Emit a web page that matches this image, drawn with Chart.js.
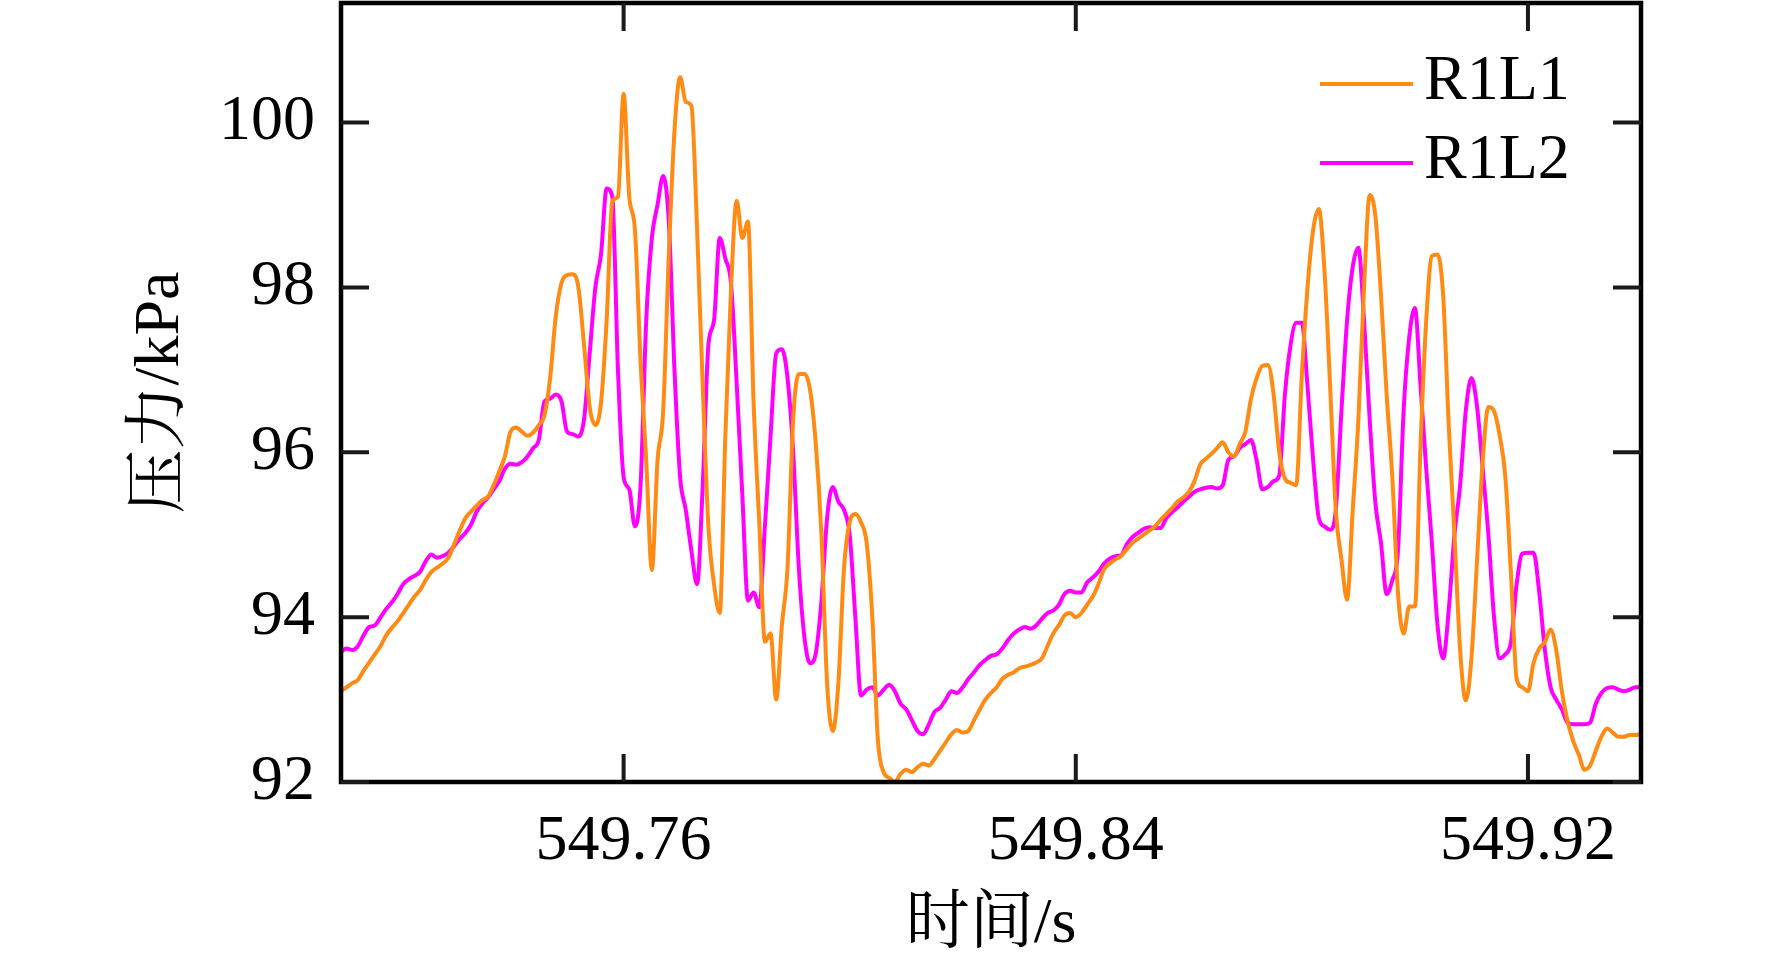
<!DOCTYPE html>
<html><head><meta charset="utf-8">
<script src="https://cdn.jsdelivr.net/npm/chart.js@4.4.0/dist/chart.umd.min.js"></script>
<style>html,body{margin:0;padding:0;background:#fff;}canvas{display:block;}</style>
</head><body>
<canvas id="c" width="1772" height="969"></canvas>
<script>
const timeS = [
549.710,549.711,549.712,549.713,549.714,549.715,549.716,549.717,549.718,549.719,
549.720,549.721,549.722,549.723,549.724,549.725,549.726,549.727,549.728,549.729,
549.730,549.731,549.732,549.733,549.734,549.735,549.736,549.737,549.738,549.739,
549.740,549.741,549.742,549.743,549.744,549.745,549.746,549.747,549.748,549.749,
549.750,549.751,549.752,549.753,549.754,549.755,549.756,549.757,549.758,549.759,
549.760,549.761,549.762,549.763,549.764,549.765,549.766,549.767,549.768,549.769,
549.770,549.771,549.772,549.773,549.774,549.775,549.776,549.777,549.778,549.779,
549.780,549.781,549.782,549.783,549.784,549.785,549.786,549.787,549.788,549.789,
549.790,549.791,549.792,549.793,549.794,549.795,549.796,549.797,549.798,549.799,
549.800,549.801,549.802,549.803,549.804,549.805,549.806,549.807,549.808,549.809,
549.810,549.811,549.812,549.813,549.814,549.815,549.816,549.817,549.818,549.819,
549.820,549.821,549.822,549.823,549.824,549.825,549.826,549.827,549.828,549.829,
549.830,549.831,549.832,549.833,549.834,549.835,549.836,549.837,549.838,549.839,
549.840,549.841,549.842,549.843,549.844,549.845,549.846,549.847,549.848,549.849,
549.850,549.851,549.852,549.853,549.854,549.855,549.856,549.857,549.858,549.859,
549.860,549.861,549.862,549.863,549.864,549.865,549.866,549.867,549.868,549.869,
549.870,549.871,549.872,549.873,549.874,549.875,549.876,549.877,549.878,549.879,
549.880,549.881,549.882,549.883,549.884,549.885,549.886,549.887,549.888,549.889,
549.890,549.891,549.892,549.893,549.894,549.895,549.896,549.897,549.898,549.899,
549.900,549.901,549.902,549.903,549.904,549.905,549.906,549.907,549.908,549.909,
549.910,549.911,549.912,549.913,549.914,549.915,549.916,549.917,549.918,549.919,
549.920,549.921,549.922,549.923,549.924,549.925,549.926,549.927,549.928,549.929,
549.930,549.931,549.932,549.933,549.934,549.935,549.936,549.937,549.938,549.939,
549.940];

const r1l1 = [
93.10,93.15,93.20,93.24,93.35,93.45,93.55,93.65,93.78,93.87,
93.95,94.05,94.15,94.25,94.33,94.45,94.55,94.60,94.65,94.72,
94.88,95.05,95.20,95.28,95.35,95.42,95.46,95.60,95.77,95.95,
96.25,96.30,96.25,96.20,96.24,96.33,96.45,96.90,97.65,98.05,
98.15,98.16,98.00,97.30,96.55,96.33,96.60,97.60,99.05,99.10,
100.35,99.10,98.70,97.10,95.90,94.57,95.90,96.50,98.40,99.90,
100.55,100.25,100.20,98.70,96.80,95.10,94.40,94.05,96.20,97.98,
99.05,98.60,98.80,96.60,95.15,93.70,93.80,93.00,93.90,94.60,
96.40,96.95,96.95,96.75,96.10,95.00,93.20,92.62,93.20,94.60,
95.15,95.25,95.15,94.90,94.00,92.50,92.12,92.05,92.00,92.10,
92.15,92.12,92.18,92.22,92.20,92.28,92.38,92.48,92.58,92.63,
92.60,92.62,92.75,92.88,93.00,93.08,93.15,93.25,93.30,93.33,
93.38,93.40,93.42,93.45,93.50,93.65,93.80,93.90,94.02,94.05,
94.00,94.05,94.15,94.25,94.40,94.58,94.65,94.70,94.74,94.82,
94.90,94.95,95.00,95.05,95.10,95.18,95.25,95.32,95.40,95.45,
95.52,95.65,95.85,95.92,95.98,96.05,96.12,96.00,95.95,96.10,
96.25,96.65,96.90,97.05,97.06,96.70,96.00,95.68,95.63,95.60,
96.94,98.00,98.70,98.95,98.20,96.80,95.30,94.70,94.21,95.30,
96.40,98.00,99.12,98.87,97.90,96.70,95.70,94.30,93.80,94.13,
94.13,96.10,97.60,98.38,98.40,97.90,96.30,95.00,93.60,92.99,
93.50,94.70,95.90,96.55,96.50,96.20,95.70,94.52,93.25,93.15,
93.10,93.45,93.62,93.70,93.85,93.60,93.10,92.74,92.50,92.33,
92.15,92.20,92.38,92.55,92.65,92.60,92.55,92.55,92.57,92.57,
92.58];

const r1l2 = [
93.58,93.62,93.60,93.65,93.78,93.88,93.90,94.00,94.10,94.18,
94.28,94.40,94.46,94.50,94.55,94.68,94.76,94.72,94.74,94.78,
94.86,94.95,95.02,95.12,95.28,95.38,95.45,95.55,95.65,95.80,
95.86,95.85,95.88,95.95,96.05,96.15,96.62,96.65,96.70,96.62,
96.25,96.22,96.19,96.40,97.20,98.00,98.40,99.20,99.10,97.00,
95.70,95.55,95.10,95.60,97.60,98.60,99.00,99.35,98.80,97.00,
95.70,95.30,94.80,94.40,95.60,97.30,97.60,98.60,98.35,98.05,
96.84,95.49,94.20,94.30,94.12,95.10,96.20,97.20,97.25,96.90,
96.00,94.60,93.75,93.44,93.56,94.20,95.20,95.58,95.40,95.30,
95.00,94.00,93.05,93.12,93.15,93.05,93.12,93.18,93.10,92.95,
92.88,92.75,92.62,92.58,92.70,92.85,92.90,93.00,93.10,93.08,
93.15,93.25,93.33,93.42,93.48,93.53,93.55,93.62,93.72,93.80,
93.85,93.88,93.86,93.90,93.98,94.05,94.08,94.15,94.28,94.32,
94.30,94.30,94.42,94.48,94.55,94.65,94.71,94.74,94.75,94.88,
94.97,95.02,95.07,95.09,95.08,95.08,95.20,95.27,95.33,95.40,
95.46,95.52,95.55,95.57,95.58,95.56,95.60,95.91,95.95,96.05,
96.10,96.15,95.90,95.55,95.58,95.65,95.72,96.70,97.30,97.57,
97.57,96.80,95.90,95.20,95.10,95.06,95.30,96.50,97.60,98.25,
98.48,97.60,96.40,95.39,94.90,94.28,94.45,94.80,96.50,97.40,
97.75,96.80,95.80,94.90,93.90,93.50,94.10,95.00,95.60,96.50,
96.90,96.55,95.80,95.00,94.00,93.50,93.55,93.70,94.40,94.77,
94.78,94.78,94.30,93.60,93.15,93.00,92.88,92.72,92.70,92.70,
92.70,92.72,92.95,93.08,93.14,93.15,93.12,93.10,93.12,93.15,
93.15];

const seriesNames = ['R1L1', 'R1L2'];
const seriesColors = ['#ff8a14', '#ff00ff'];
const xTicks = [549.76, 549.84, 549.92];
const yTicks = [92, 94, 96, 98, 100];
const xTitle = '时间/s';
const yTitle = '压力/kPa';

const FONT = "'Liberation Serif', 'Times New Roman', 'Noto Serif CJK SC', 'Noto Sans CJK SC', serif";

const framePlugin = {
  id: 'frame',
  afterDatasetsDraw(chart) {
    const {ctx, chartArea: a, scales: {x, y}} = chart;
    ctx.save();
    ctx.strokeStyle = '#000';
    ctx.lineWidth = 4.5;
    ctx.strokeRect(a.left, a.top, a.right - a.left, a.bottom - a.top);
    ctx.lineWidth = 4;
    ctx.strokeStyle = '#1a1a1a';
    const L = 28;
    yTicks.forEach(v => {
      const p = y.getPixelForValue(v);
      ctx.beginPath();
      ctx.moveTo(a.left, p); ctx.lineTo(a.left + L, p);
      ctx.moveTo(a.right, p); ctx.lineTo(a.right - L, p);
      ctx.stroke();
    });
    xTicks.forEach(v => {
      const p = x.getPixelForValue(v);
      ctx.beginPath();
      ctx.moveTo(p, a.bottom); ctx.lineTo(p, a.bottom - L);
      ctx.moveTo(p, a.top); ctx.lineTo(p, a.top + L);
      ctx.stroke();
    });
    ctx.restore();
  }
};

const legendPlugin = {
  id: 'lg',
  afterDraw(chart) {
    const {ctx, chartArea: a} = chart;
    ctx.save();
    chart.data.datasets.forEach((ds, i) => {
      const yy = a.top + 81 + i * 79;
      ctx.strokeStyle = ds.borderColor;
      ctx.lineWidth = 4;
      ctx.beginPath();
      ctx.moveTo(a.right - 321, yy);
      ctx.lineTo(a.right - 228, yy);
      ctx.stroke();
      ctx.fillStyle = '#000';
      ctx.font = '64px ' + FONT;
      ctx.textBaseline = 'middle';
      ctx.textAlign = 'left';
      ctx.fillText(ds.label, a.right - 217, yy - 2);
    });
    ctx.restore();
  }
};

const mk = (vals) => timeS.map((t, i) => ({x: t, y: vals[i]}));

new Chart(document.getElementById('c').getContext('2d'), {
  type: 'line',
  data: {
    datasets: [
      {label: seriesNames[0], data: mk(r1l1), borderColor: seriesColors[0], borderWidth: 4,
       pointRadius: 0, cubicInterpolationMode: 'monotone', fill: false, borderJoinStyle: 'round'},
      {label: seriesNames[1], data: mk(r1l2), borderColor: seriesColors[1], borderWidth: 4,
       pointRadius: 0, cubicInterpolationMode: 'monotone', fill: false, borderJoinStyle: 'round'}
    ]
  },
  options: {
    responsive: false,
    animation: false,
    devicePixelRatio: 1,
    layout: {padding: {left: 0, right: 131, top: 3, bottom: 0}},
    plugins: {legend: {display: false}, tooltip: {enabled: false}},
    scales: {
      x: {
        type: 'linear', min: 549.71, max: 549.94,
        grid: {display: false, drawTicks: false},
        border: {display: false},
        afterBuildTicks: s => { s.ticks = xTicks.map(v => ({value: v})); },
        afterFit: s => { s.height = 187; s.paddingLeft = 0; s.paddingRight = 0; s.paddingTop = 0; s.paddingBottom = 0; },
        ticks: {autoSkip: false, maxRotation: 0, padding: 22, color: '#000',
                font: {family: FONT, size: 64}, callback: v => Number(v).toFixed(2)},
        title: {display: true, text: xTitle, color: '#000',
                font: {family: FONT, size: 64}, padding: {top: 0, bottom: 5}}
      },
      y: {
        type: 'linear', min: 92, max: 101.45,
        grid: {display: false, drawTicks: false},
        border: {display: false},
        afterBuildTicks: s => { s.ticks = yTicks.map(v => ({value: v})); },
        afterFit: s => { s.width = 341; s.paddingTop = 0; s.paddingBottom = 0; s.paddingLeft = 0; s.paddingRight = 0; },
        ticks: {autoSkip: false, padding: 26, color: '#000',
                font: {family: FONT, size: 64}, callback: v => String(v)},
        title: {display: true, text: yTitle, color: '#000',
                font: {family: FONT, size: 64}, padding: {top: 123, bottom: 0}}
      }
    }
  },
  plugins: [framePlugin, legendPlugin]
});
</script>
</body></html>
